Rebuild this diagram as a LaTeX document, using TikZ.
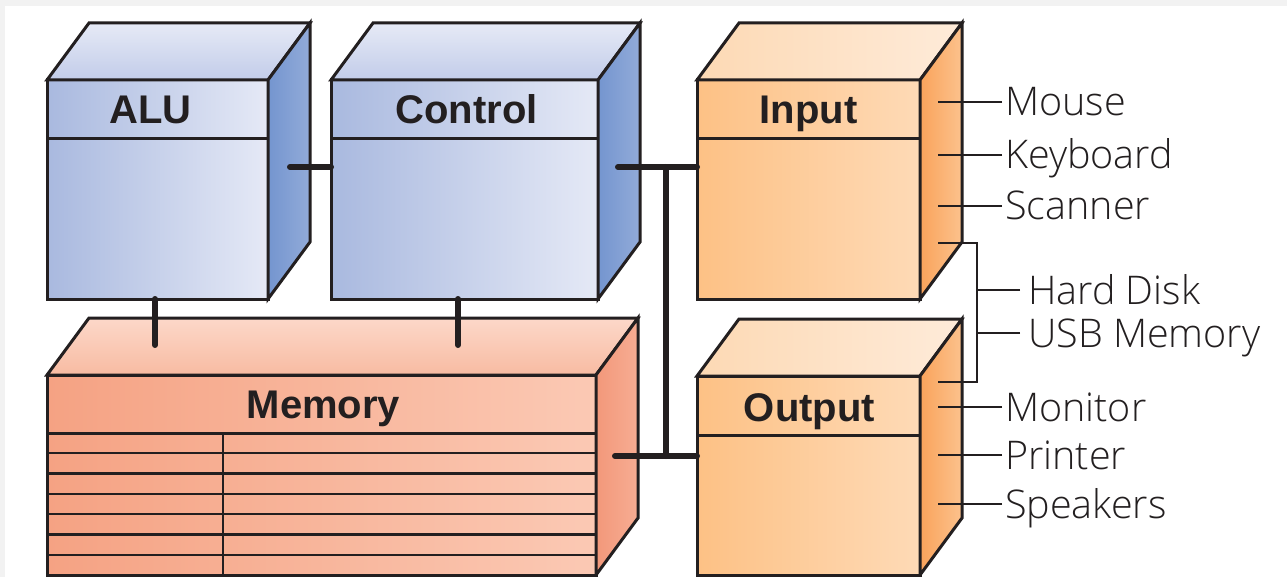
\documentclass[tikz,border=0pt]{standalone}
\usepackage{fontspec}
\setmainfont{Liberation Sans}
\newfontfamily\devfont{Open Sans}[UprightFont=* Light]

\definecolor{bgray}{HTML}{F2F2F2}
\definecolor{ink}{HTML}{231F20}
\definecolor{blueL}{HTML}{A9B9DF}
\definecolor{blueR}{HTML}{E5E9F6}
\definecolor{blueSideL}{HTML}{7495CF}
\definecolor{blueSideR}{HTML}{92ABD9}
\definecolor{blueTopB}{HTML}{E6EAF6}
\definecolor{blueTopF}{HTML}{C2CCE9}
\definecolor{memL}{HTML}{F5A283}
\definecolor{memR}{HTML}{FBC9B4}
\definecolor{memSideL}{HTML}{F2987A}
\definecolor{memSideR}{HTML}{F7AD93}
\definecolor{memTopB}{HTML}{FCD8C9}
\definecolor{memTopF}{HTML}{F8BBA2}
\definecolor{orgL}{HTML}{FDC185}
\definecolor{orgR}{HTML}{FEDAB6}
\definecolor{orgSideL}{HTML}{F9A35B}
\definecolor{orgSideR}{HTML}{FCC28D}
\definecolor{orgTopL}{HTML}{FDD9B4}
\definecolor{orgTopR}{HTML}{FEEBD9}

% top face, side face and header line of a box whose front face is node #1
\newcommand{\boxsides}[4]{%
  \draw[ink, line width=3pt, #2] (#1.north west) -- ([shift={(42,-57)}]#1.north west)
    -- ([shift={(42,-57)}]#1.north east) -- (#1.north east) -- cycle;
  \draw[ink, line width=3pt, #3] (#1.north east) -- ([shift={(42,-57)}]#1.north east)
    -- ([shift={(42,-57)}]#1.south east) -- (#1.south east) -- cycle;
  \draw[ink, line width=3pt] ([yshift=-#4]#1.north west) -- ([yshift=-#4]#1.north east);
}

\begin{document}
\begin{tikzpicture}[x=1pt, y=-1pt,
    unit/.style={draw=ink, line width=3pt, inner sep=0pt, outer sep=0pt},
    bluefront/.style={unit, left color=blueL, right color=blueR},
    memfront/.style={unit, left color=memL, right color=memR},
    orgfront/.style={unit, left color=orgL, right color=orgR},
    bluetop/.style={top color=blueTopB, bottom color=blueTopF},
    blueside/.style={left color=blueSideL, right color=blueSideR},
    memtop/.style={top color=memTopB, bottom color=memTopF},
    memside/.style={left color=memSideL, right color=memSideR},
    orgtop/.style={left color=orgTopL, right color=orgTopR},
    orgside/.style={left color=orgSideL, right color=orgSideR},
    head/.style={font=\fontsize{40}{42}\selectfont\bfseries, text=ink,
      text height=28pt, text depth=0pt, inner sep=0pt},
    device/.style={font=\devfont\fontsize{39.5}{42}\selectfont, text=ink, anchor=west,
      text height=28pt, text depth=0pt, inner ysep=0pt, inner xsep=3pt},
    bus/.style={draw=ink, line width=6pt, line cap=round},
    tick/.style={draw=ink, line width=1.6pt},
    gridline/.style={draw=ink, line width=2.2pt}]
  \useasboundingbox (0,0) rectangle (1287,577);
  \fill[bgray] (0,0) rectangle (1287,577);
  \fill[white] (5,6) rectangle (1287,577);

  % front faces
  \node[bluefront, minimum width=221pt, minimum height=219pt] (ALU) at (157.5,189.5) {};
  \node[bluefront, minimum width=267pt, minimum height=219pt] (Control) at (464.5,189.5) {};
  \node[orgfront, minimum width=223pt, minimum height=219pt] (Input) at (808.5,189.5) {};
  \node[memfront, minimum width=549pt, minimum height=200pt] (Memory) at (321.5,475) {};
  \node[orgfront, minimum width=223pt, minimum height=199pt] (Output) at (808.5,475.5) {};

  \boxsides{ALU}{bluetop}{blueside}{59pt}
  \boxsides{Control}{bluetop}{blueside}{59pt}
  \boxsides{Input}{orgtop}{orgside}{59pt}
  \boxsides{Memory}{memtop}{memside}{58pt}
  \boxsides{Output}{orgtop}{orgside}{59pt}

  % memory cells
  \foreach \k in {1,...,6}
    \draw[gridline] ([yshift=\k*20.29pt]Memory.south west) -- ([yshift=\k*20.29pt]Memory.south east);
  \draw[gridline] ([xshift=176pt]Memory.south west) -- ([xshift=176pt,yshift=142pt]Memory.south west);

  \node[head] (alutext) at ([xshift=-7pt,yshift=-30pt]ALU.north) {ALU};
  \node[head] (controltext) at ([xshift=2pt,yshift=-30pt]Control.north) {Control};
  \node[head] (inputtext) at ([yshift=-30pt]Input.north) {Input};
  \node[head] (memorytext) at ([xshift=2pt,yshift=-29pt]Memory.north) {Memory};
  \node[head] (outputtext) at ([xshift=1pt,yshift=-31pt]Output.north) {Output};

  % buses
  \coordinate (bustop) at (666,167);
  \coordinate (busbot) at (666,456);
  \draw[bus] ([xshift=22pt,yshift=22.5pt]ALU.east) -- ([yshift=22.5pt]Control.west);
  \draw[bus] ([xshift=20pt,yshift=22.5pt]Control.east) -- ([yshift=22.5pt]Input.west);
  \draw[bus] (bustop) -- (busbot);
  \draw[bus] ([xshift=19pt,yshift=19pt]Memory.east) -- ([yshift=19.5pt]Output.west);
  \draw[bus] ([xshift=-2.5pt]ALU.south) -- ++(0,46);
  \draw[bus] ([xshift=-6.5pt]Control.south) -- ++(0,46);

  % devices
  \coordinate (tickin) at (938,0);
  \coordinate (brk) at (977,0);
  \coordinate (brktop) at (938,243);
  \coordinate (brkbot) at (938,382);
  \node[device] (mouse) at (1002,102) {Mouse};
  \node[device] (keyboard) at (1002,155) {Keyboard};
  \node[device] (scanner) at (1002,206) {Scanner};
  \node[device, inner xsep=8pt] (harddisk) at (1020,290) {Hard Disk};
  \node[device, inner xsep=8pt] (usb) at (1020,333) {USB Memory};
  \node[device] (monitor) at (1002,407) {Monitor};
  \node[device] (printer) at (1002,455) {Printer};
  \node[device] (speakers) at (1002,504) {Speakers};
  \foreach \d in {mouse,keyboard,scanner,monitor,printer,speakers}
    \draw[tick] (\d.west) -- (\d.west -| tickin);
  \draw[tick] (brktop) -| (brk |- brkbot) -- (brkbot);
  \draw[tick] (harddisk.west) -- (harddisk.west -| brk);
  \draw[tick] (usb.west) -- (usb.west -| brk);
\end{tikzpicture}
\end{document}
